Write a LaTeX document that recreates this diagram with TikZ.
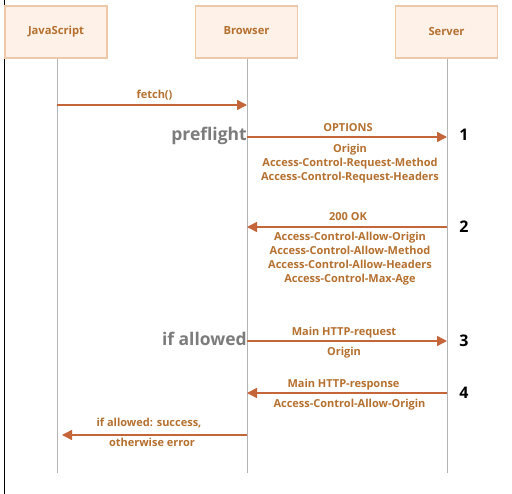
\documentclass[tikz,border=0pt]{standalone}
\usepackage{fontspec}
\setmainfont{Open Sans}
\usetikzlibrary{arrows.meta}
\definecolor{txt}{HTML}{B5702F}
\definecolor{arr}{HTML}{C5653A}
\definecolor{boxfill}{HTML}{FDF1E8}
\definecolor{boxline}{HTML}{EDC8A9}
\definecolor{life}{HTML}{B4B4B4}
\definecolor{side}{HTML}{B070A0}
\definecolor{graytxt}{HTML}{7C7C7C}
\tikzset{
  actor/.style={draw=boxline,line width=1.2pt,fill=boxfill,minimum width=102pt,minimum height=52pt,inner sep=0pt,font=\fontsize{11.2}{13}\selectfont\bfseries,text=txt},
  lifeline/.style={draw=life,line width=1pt},
  msg/.style={draw=arr,line width=1.5pt,-{Triangle[length=10pt,width=10pt]}},
  lbl/.style={font=\fontsize{11}{14.2}\selectfont\bfseries,text=txt,inner sep=0pt,align=center},
  side/.style={font=\fontsize{17.5}{20}\selectfont\bfseries,text=graytxt,inner sep=0pt},
  num/.style={font=\fontsize{16}{20}\selectfont\bfseries,text=black,inner sep=0pt}
}
\begin{document}
\begin{tikzpicture}[x=1pt,y=-1pt]
\useasboundingbox (0,0) rectangle (512,494);
\fill[white] (0,0) rectangle (512,494);
\draw[side,line width=1pt] (4.5,0) -- (4.5,494);
\node[actor] (js) at (56,32) {JavaScript};
\node[actor] (br) at (246.5,32) {\raisebox{2pt}{Browser}};
\node[actor] (sv) at (446.5,32) {Server};
\coordinate (jsE) at (57,473);
\coordinate (brE) at (247,473);
\coordinate (svE) at (447,473);
\draw[lifeline] (js.south -| jsE) -- (jsE);
\draw[lifeline] (br.south -| brE) -- (brE);
\draw[lifeline] (sv.south -| svE) -- (svE);
% fetch
\coordinate (a1s) at (57,105); \coordinate (a1e) at (247,105);
\draw[msg] (a1s) -- (a1e);
\node[lbl,anchor=base] (l1) at (154.5,99) {fetch()};
% OPTIONS
\coordinate (a2s) at (247,137); \coordinate (a2e) at (447,137);
\draw[msg] (a2s) -- (a2e);
\node[lbl,anchor=base] (l2) at (348,132) {OPTIONS};
\node[lbl,anchor=north] (l2b) at (350,143.5) {Origin\\Access-Control-Request-Method\\Access-Control-Request-Headers};
\node[side,anchor=east] (pf) at (247,136) {preflight};
\node[num] (n1) at (464,135) {1};
% 200 OK
\coordinate (a3s) at (447,227); \coordinate (a3e) at (247,227);
\draw[msg] (a3s) -- (a3e);
\node[lbl,anchor=base] (l3) at (348,221) {200 OK};
\node[lbl,anchor=north] (l3b) at (350,231.5) {Access-Control-Allow-Origin\\Access-Control-Allow-Method\\Access-Control-Allow-Headers\\Access-Control-Max-Age};
\node[num] (n2) at (464,227) {2};
% main request
\coordinate (a4s) at (247,341); \coordinate (a4e) at (447,341);
\draw[msg] (a4s) -- (a4e);
\node[lbl,anchor=base] (l4) at (344,336) {Main HTTP-request};
\node[lbl,anchor=base] (l4b) at (344,356) {Origin};
\node[side,anchor=east] (ia) at (247,339) {if allowed};
\node[num] (n3) at (464,341) {3};
% main response
\coordinate (a5s) at (447,393); \coordinate (a5e) at (247,393);
\draw[msg] (a5s) -- (a5e);
\node[lbl,anchor=base] (l5) at (343.5,388) {Main HTTP-response};
\node[lbl,anchor=base] (l5b) at (349.5,408) {Access-Control-Allow-Origin};
\node[num] (n4) at (464,393) {4};
% final
\coordinate (a6s) at (247,435); \coordinate (a6e) at (62,435);
\draw[msg] (a6s) -- (a6e);
\node[lbl,anchor=base] (l6) at (149,427) {if allowed: success,};
\node[lbl,anchor=base] (l6b) at (152,447) {otherwise error};
\end{tikzpicture}
\end{document}
